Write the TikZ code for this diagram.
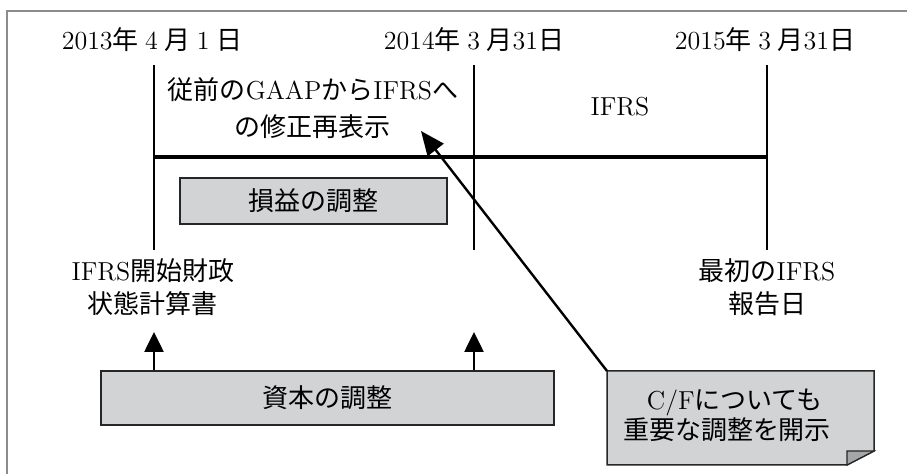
\documentclass[tikz,border=0pt]{standalone}
\usepackage{fontspec}
\newfontfamily\jp{Noto Sans CJK JP}
\usetikzlibrary{arrows.meta}
\newcommand{\J}[1]{{\jp #1}}
\newcommand{\gp}{\hspace{0.25em}}
\definecolor{boxgray}{RGB}{210,211,213}
\definecolor{foldgray}{RGB}{165,166,168}
\definecolor{framegray}{RGB}{140,140,140}
\begin{document}
\begin{tikzpicture}[x=0.5pt,y=-0.5pt,
  txt/.style={font=\fontsize{13}{16.5}\selectfont, inner sep=0pt, align=center},
  gbox/.style={draw=black!85, fill=boxgray, line width=0.75pt, inner sep=0pt, font=\fontsize{13}{16.5}\selectfont},
  vline/.style={line width=1.4pt},
  hline/.style={line width=1.7pt},
  uparrow/.style={line width=1.3pt, -{Triangle[length=10pt,width=9.5pt]}},
  diag/.style={line width=1.2pt, -{Triangle[length=12pt,width=10pt]}},
  frame/.style={draw=framegray, line width=1pt}]
\useasboundingbox (0,0) rectangle (907,474);
% frame (top and left edges only visible)
\coordinate (f0) at (7,11);
\coordinate (f1) at (907,11);
\coordinate (f2) at (7,474);
\draw[frame] (f1) -- (f0) -- (f2);
% dates
\node[txt] (d1) at (152,40) {2013\J{年}\gp 4\gp\J{月}\gp 1\gp\J{日}};
\node[txt] (d2) at (474,40) {2014\J{年}\gp 3\gp\J{月}31\J{日}};
\node[txt] (d3) at (765,40) {2015\J{年}\gp 3\gp\J{月}31\J{日}};
% timeline
\coordinate (v1t) at (154,65); \coordinate (v1b) at (154,250);
\coordinate (v2t) at (474,65); \coordinate (v2b) at (474,250);
\coordinate (v3t) at (767,65); \coordinate (v3b) at (767,250);
\coordinate (h1) at (154,157); \coordinate (h3) at (767,157);
\draw[vline] (v1t) -- (v1b);
\draw[vline] (v2t) -- (v2b);
\draw[vline] (v3t) -- (v3b);
\draw[hline] (h1) -- (h3);
% period labels
\node[txt] (restate) at (313,108) {\J{従前の}GAAP\J{から}IFRS\J{へ}\\[2pt]\J{の修正再表示}};
\node[txt] (ifrs) at (620,107) {IFRS};
% P/L box
\node[gbox, minimum width=133.5pt, minimum height=23pt] (pl) at (313.5,201) {\J{損益の調整}};
% bottom labels
\node[txt] (open) at (153,287) {IFRS\J{開始財政}\\\J{状態計算書}};
\node[txt] (first) at (767,287) {\J{最初の}IFRS\\\J{報告日}};
% equity box
\node[gbox, minimum width=226.5pt, minimum height=27pt] (eq) at (327.5,398) {\J{資本の調整}};
\coordinate (a1) at (154,332);
\coordinate (a2) at (474,332);
\draw[uparrow] (eq.north -| a1) -- (a1);
\draw[uparrow] (eq.north -| a2) -- (a2);
% note with folded corner
\coordinate (n1) at (607,371);
\coordinate (n2) at (874,371);
\coordinate (n3) at (874,451);
\coordinate (n4) at (847,465);
\coordinate (n5) at (607,465);
\coordinate (n6) at (847,451);
\draw[draw=black!85, fill=boxgray, line width=0.75pt] (n1) -- (n2) -- (n3) -- (n4) -- (n5) -- cycle;
\draw[draw=black!85, fill=foldgray, line width=0.6pt] (n6) -- (n3) -- (n4) -- cycle;
\node[txt, font=\fontsize{13}{13.5}\selectfont] (note) at (727,415) {\hspace{0.6em}C/F\J{についても}\\\J{重要な調整を開示}};
\coordinate (tip) at (421,131);
\draw[diag] (n1) -- (tip);
\end{tikzpicture}
\end{document}
